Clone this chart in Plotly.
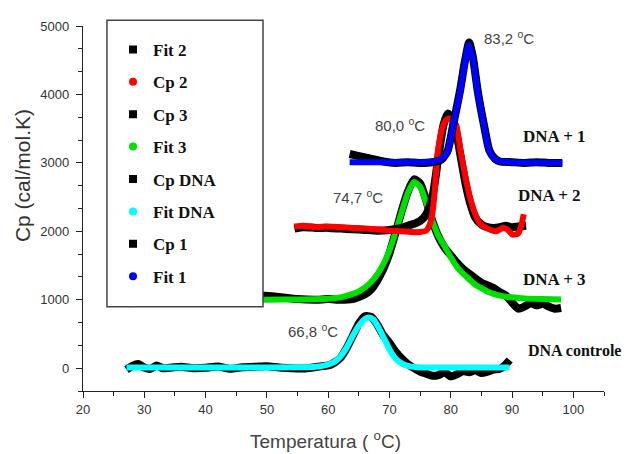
import plotly.graph_objects as go

# ---------------- data ----------------
# DNA controle
x_cp_dna = [27.1, 28.0, 29.0, 30.0, 31.0, 32.0, 33.0, 34.5, 36, 38, 40, 42, 44, 46, 48, 50, 52, 54, 56, 57.5,
            59, 60, 61, 62, 63, 64, 65, 66, 67, 68, 69, 70, 71, 72, 73, 74, 75, 76, 77, 78, 79, 80, 81, 82,
            83, 84, 85, 86, 87, 88, 88.8, 89.6]
y_cp_dna = [-20, 30, 60, 10, -10, 40, 0, 10, 20, 0, 5, 25, -10, 15, 20, 30, 10, 0, -5, 10,
            30, 40, 80, 150, 290, 470, 650, 760, 750, 640, 480, 370, 240, 140, 60, 0, -50, -80, -110, -100,
            -60, -120, -90, -40, -60, -30, -70, -50, -20, -10, 40, 120]
x_fit_dna = [27.1, 35, 45, 55, 58, 59.5, 61, 62, 63, 64, 65, 66, 66.6, 67.4, 68.3, 69.2, 70.1, 71, 72, 73,
             74.5, 77, 85, 89.6]
y_fit_dna = [10, 10, 10, 12, 20, 40, 90, 170, 300, 470, 620, 720, 740, 710, 580, 420, 260, 140, 70, 35,
             15, 10, 10, 10]

# DNA + 3
x_cp3 = [27.5, 30, 35, 40, 45, 49.6, 52, 55, 58, 60, 62, 64, 65, 66, 67, 68, 69, 70, 71, 72, 73, 74, 75,
         76, 77, 78, 79, 80, 81, 82, 83, 84, 85, 86, 87, 88, 89, 90, 91, 92, 93, 94, 95, 96, 97, 98]
y_cp3 = [950, 980, 1000, 990, 1000, 1060, 1040, 1010, 1000, 1010, 1000, 1010, 1040, 1080, 1150, 1280, 1450,
         1680, 1980, 2300, 2580, 2760, 2700, 2450, 2150, 1920, 1760, 1650, 1540, 1450, 1380, 1310, 1250,
         1210, 1170, 1110, 1060, 960, 870, 900, 950, 920, 940, 900, 870, 880]
x_fit3 = [27.5, 40, 50, 56, 60, 62, 63.5, 65, 66, 67, 68, 69, 70, 71, 72, 73, 74, 75, 76, 77, 78, 79, 80,
          81, 82, 83, 84, 85, 86, 87, 88, 89, 90, 92, 95, 98]
y_fit3 = [1000, 1000, 1000, 1005, 1015, 1035, 1070, 1120, 1180, 1260, 1370, 1520, 1720, 1990, 2280, 2560,
          2720, 2650, 2420, 2150, 1930, 1780, 1620, 1480, 1380, 1300, 1220, 1170, 1120, 1085, 1060, 1045,
          1035, 1020, 1010, 1005]

# DNA + 2
x_cp2 = [54.5, 56, 58, 60, 62, 64, 66, 68, 70, 72, 73, 74, 75, 76, 77, 78, 78.8, 79.5, 80.3, 81, 81.7,
         82.4, 83.2, 84, 85, 86, 87, 88, 89, 90, 91, 92.3]
y_cp2 = [2040, 2060, 2050, 2050, 2040, 2030, 2020, 2010, 2020, 2050, 2080, 2110, 2150, 2250, 2500, 3100,
         3550, 3720, 3650, 3400, 3050, 2700, 2400, 2200, 2100, 2060, 2050, 2060, 2080, 2060, 2070, 2080]
x_fit2 = [54.5, 56, 58, 60, 62, 64, 66, 68, 70, 72, 73.5, 75, 76, 76.5, 76.9, 77.3, 77.6, 77.9, 78.6, 79.2,
          79.8, 80.4, 80.9, 81.6, 82.3, 83.1, 83.8, 84.7, 86, 87.4, 88.5, 89.2, 90.1, 91.0, 91.5, 91.9]
y_fit2 = [2070, 2080, 2060, 2070, 2060, 2050, 2040, 2030, 2010, 2000, 1990, 1990, 2010, 2080, 2200, 2500,
          2850, 3170, 3500, 3620, 3650, 3600, 3550, 3170, 2840, 2510, 2300, 2120, 2040, 2000, 2050, 2030,
          1950, 1970, 2080, 2250]

# DNA + 1
x_cp1 = [63.5, 64.5, 66, 67.5, 69, 71, 73, 75, 77, 78.5, 79.5, 80.4, 81.5, 82.3, 83, 83.6, 84.4, 85.4,
         86.3, 87.2, 88, 90, 92, 94, 96, 98.2]
y_cp1 = [3130, 3110, 3080, 3050, 3020, 3000, 3010, 3000, 3010, 3050, 3180, 3560, 4050, 4480, 4760, 4550,
         4050, 3560, 3180, 3060, 3020, 3010, 3000, 3010, 3000, 3000]
x_fit1 = [63.5, 70, 75, 77, 78, 79, 79.5, 80.4, 81.5, 82.3, 82.9, 83.6, 84.4, 85.4, 86.3, 87.2, 88, 90,
          94, 98.2]
y_fit1 = [3010, 3010, 3010, 3020, 3040, 3100, 3170, 3550, 4030, 4450, 4730, 4520, 4030, 3550, 3170, 3060,
          3030, 3010, 3005, 3000]

legend_names = ["Fit 2", "Cp 2", "Cp 3", "Fit 3", "Cp DNA", "Fit DNA", "Cp 1", "Fit 1"]
legend_colors = ["black", "#ff0000", "black", "#00e000", "black", "#00ffff", "black", "#0000ff"]
legend_symbols = ["square", "circle", "square", "circle", "square", "circle", "square", "circle"]

peak_labels = ["83,2 <sup>o</sup>C", "80,0 <sup>o</sup>C", "74,7 <sup>o</sup>C", "66,8 <sup>o</sup>C"]
peak_label_x = [89.45, 71.66, 64.8, 57.5]
peak_label_y = [4830, 3568, 2508, 545]

sample_labels = ["DNA + 1", "DNA + 2", "DNA + 3", "DNA controle"]
sample_label_x = [96.95, 96.1, 96.95, 100.2]
sample_label_y = [3382, 2522, 1290, 258]
sample_label_size = [17, 17, 17, 16]

# ---------------- figure ----------------
fig = go.Figure()

curves = [
    (x_cp_dna, y_cp_dna, "black", 8), (x_fit_dna, y_fit_dna, "#00ffff", 6),
    (x_cp3, y_cp3, "black", 8), (x_fit3, y_fit3, "#00e000", 6),
    (x_cp2, y_cp2, "black", 8), (x_fit2, y_fit2, "#ff0000", 6),
    (x_cp1, y_cp1, "black", 8), (x_fit1, y_fit1, "#0000ff", 6),
]
for xs, ys, c, w in curves:
    fig.add_trace(go.Scatter(x=xs, y=ys, mode="lines", showlegend=False,
                             line=dict(color=c, width=w, shape="spline", smoothing=0.6),
                             hoverinfo="skip"))

for i, (n, c, s) in enumerate(zip(legend_names, legend_colors, legend_symbols)):
    fig.add_trace(go.Scatter(x=[None], y=[None], mode="markers", name=f"<b>{n}</b>", legendgroup=f"g{i}",
                             marker=dict(color=c, symbol=s, size=8)))

serif = "Liberation Serif, Times New Roman, serif"
sans = "Liberation Sans, Arial, sans-serif"

for t, x, y in zip(peak_labels, peak_label_x, peak_label_y):
    fig.add_annotation(x=x, y=y, xref="x", yref="y", text=t, showarrow=False,
                       font=dict(family=sans, size=15, color="#444"))
for t, x, y, s in zip(sample_labels, sample_label_x, sample_label_y, sample_label_size):
    fig.add_annotation(x=x, y=y, xref="x", yref="y", text=f"<b>{t}</b>", showarrow=False,
                       font=dict(family=serif, size=s, color="#111"))

fig.add_annotation(x=0.4645, y=-0.134, xref="paper", yref="paper", text="Temperatura ( <sup>o</sup>C)",
                   xanchor="center", yanchor="middle",
                   showarrow=False, font=dict(family=sans, size=19, color="#444"))
fig.add_annotation(x=-0.117, y=0.589, xref="paper", yref="paper", text="Cp (cal/mol.K)", textangle=-90,
                   xanchor="center", yanchor="middle",
                   showarrow=False, font=dict(family=sans, size=21, color="#333"))

# legend box
fig.add_shape(type="rect", xref="paper", yref="paper", x0=0.046, x1=0.3455, y0=0.231, y1=1.016,
              fillcolor="white", line=dict(color="#444", width=1.5), layer="above")

fig.update_layout(
    width=625, height=446,
    margin=dict(l=75, r=29, t=11, b=63),
    paper_bgcolor="white", plot_bgcolor="white",
    showlegend=True,
    legend=dict(x=0.0576, y=0.984, xanchor="left", yanchor="top", bgcolor="rgba(0,0,0,0)",
                borderwidth=0, tracegroupgap=7.3, traceorder="grouped",
                font=dict(family=serif, size=17, color="#111")),
    xaxis=dict(range=[20, 105], tickmode="linear", tick0=20, dtick=10, showgrid=False, zeroline=False,
               showline=True, linecolor="#222", linewidth=1.3, ticks="outside", ticklen=6, tickwidth=1.3,
               tickcolor="#222", tickfont=dict(family=sans, size=13, color="#333"),
               minor=dict(dtick=5, ticks="outside", ticklen=4, tickcolor="#222", tickwidth=1.2)),
    yaxis=dict(range=[-333.33, 5000], tickmode="linear", tick0=0, dtick=1000, showgrid=False, zeroline=False,
               showline=True, linecolor="#222", linewidth=1.3, ticks="outside", ticklen=6, tickwidth=1.3,
               tickcolor="#222", tickfont=dict(family=sans, size=13, color="#333"), ticklabelstandoff=4,
               minor=dict(dtick=1000/3, ticks="outside", ticklen=4, tickcolor="#222", tickwidth=1.2)),
)

fig.write_html("out.html")
